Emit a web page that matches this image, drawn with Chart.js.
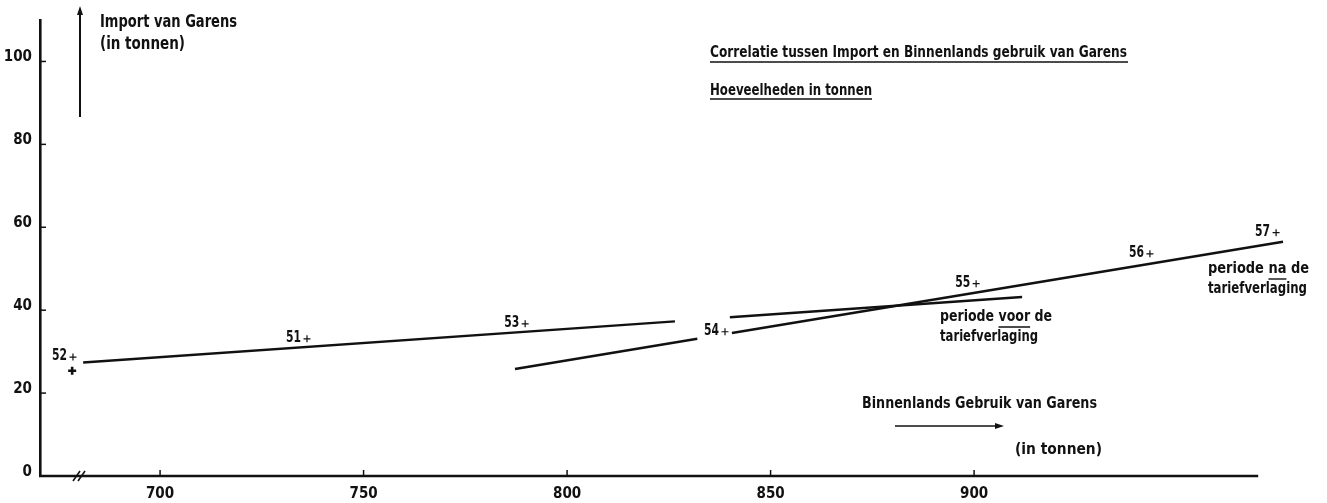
<!DOCTYPE html>
<html>
<head>
<meta charset="utf-8">
<script src="https://cdn.jsdelivr.net/npm/chart.js@4.4.1/dist/chart.umd.min.js"></script>
<style>
  html, body { margin: 0; padding: 0; background: #fff; }
  #wrap { width: 1327px; height: 503px; }
</style>
</head>
<body>
<div id="wrap"><canvas id="chart"></canvas></div>
<script>
/* ── Data ── */
const yearLabels = ['52', '51', '53', '54', '55', '56', '57'];
const gebruik    = [678.6, 736.1, 789.7, 838.8, 900.5, 943.2, 974.2];   // binnenlands gebruik
const importen   = [28.7, 33.1, 36.7, 34.8, 46.4, 53.6, 58.7];          // import

// extra bold cross under "52"
const markX = [678.4];
const markY = [25.4];

// trend lines (null = gap around the "54" label)
const voorX = [681.1, 826.5, 833, 840, 911.8];
const voorY = [27.4, 37.3, null, 38.3, 43.2];
const naX   = [787.2, 832, 836, 840.5, 975.9];
const naY   = [25.8, 33.1, null, 34.5, 56.5];

const xTicks = [700, 750, 800, 850, 900];
const yTicks = [0, 20, 40, 60, 80, 100];
const xAxisEnd = 969.8;   // the drawn x axis stops here, the 57 point sits past it

const INK  = '#111';
const FONT = '"Liberation Sans Narrow", "DejaVu Sans Condensed", "Arial Narrow", "Liberation Sans", sans-serif';

const toXY = (xs, ys) => xs.map((x, i) => ({ x: x, y: ys[i] }));

/* ── Annotation plugin: x axis line, inward ticks, axis break, texts, arrows ── */
const scanDecor = {
  id: 'scanDecor',
  afterDraw(chart) {
    const ctx = chart.ctx;
    const xs = chart.scales.x, ys = chart.scales.y;
    const area = chart.chartArea;

    ctx.save();
    ctx.strokeStyle = INK;
    ctx.fillStyle = INK;

    const line = (x1, y1, x2, y2, w) => {
      ctx.lineWidth = w;
      ctx.beginPath(); ctx.moveTo(x1, y1); ctx.lineTo(x2, y2); ctx.stroke();
    };
    // bold condensed text squeezed to the width it has in the scan
    const txt = (s, x, y, w, size) => {
      ctx.font = 'bold ' + (size || 16) + 'px ' + FONT;
      const k = w / ctx.measureText(s).width;
      ctx.save();
      ctx.translate(x, y);
      ctx.scale(k, 1);
      ctx.fillText(s, 0, 0);
      ctx.restore();
      return k;
    };
    // underline one word of a line drawn with txt()
    const underlineWord = (s, word, x, y, w, uy, size) => {
      const k = txt(s, x, y, w, size);
      const i = s.indexOf(word);
      const x0 = x + ctx.measureText(s.slice(0, i)).width * k;
      const x1 = x0 + ctx.measureText(word).width * k;
      line(x0, uy, x1, uy, 1.4);
    };

    // x axis line (shorter than the scale)
    line(area.left - 1, area.bottom, xs.getPixelForValue(xAxisEnd), area.bottom, 2.6);

    // inward tick marks
    yTicks.forEach(v => {
      const py = ys.getPixelForValue(v);
      line(area.left, py, area.left + 6, py, 1.5);
    });
    xTicks.forEach(v => {
      const px = xs.getPixelForValue(v);
      line(px, area.bottom, px, area.bottom - 6, 1.5);
    });

    // axis break "//"
    [0, 5].forEach(d => {
      line(area.left + 33 + d, area.bottom + 5, area.left + 40 + d, area.bottom - 5, 1.6);
    });

    // year labels next to the crosses
    ctx.textAlign = 'left';
    ctx.textBaseline = 'middle';
    chart.getDatasetMeta(2).data.forEach((pt, i) => {
      txt(yearLabels[i], pt.x - 21, pt.y - 1, 15, 15);
    });

    txt('Import van Garens', 100, 23, 137, 17);
    txt('(in tonnen)', 100, 45, 85, 17);

    // vertical arrow
    line(80, 117, 80, 12, 2);
    ctx.beginPath(); ctx.moveTo(80, 6); ctx.lineTo(77, 15); ctx.lineTo(83, 15); ctx.closePath(); ctx.fill();

    txt('Correlatie tussen Import en Binnenlands gebruik van Garens', 710, 53, 417);
    line(710, 62, 1128, 62, 1.6);
    txt('Hoeveelheden in tonnen', 710, 91, 162);
    line(710, 99, 872, 99, 1.6);

    underlineWord('periode voor de', 'voor', 940, 317, 112, 327);
    txt('tariefverlaging', 940, 337, 98);

    underlineWord('periode na de', 'na', 1208, 269, 101, 279);
    txt('tariefverlaging', 1208, 289, 99);

    txt('Binnenlands Gebruik van Garens', 862, 404, 235);
    line(895, 426, 996, 426, 1.6);
    ctx.beginPath(); ctx.moveTo(1004, 426); ctx.lineTo(995, 423); ctx.lineTo(995, 429); ctx.closePath(); ctx.fill();
    txt('(in tonnen)', 1015, 450, 87);

    ctx.restore();
  }
};

const lineStyle = {
  type: 'line',
  borderColor: INK,
  borderWidth: 2.5,
  pointRadius: 0,
  spanGaps: false,
  tension: 0,
  clip: false
};

new Chart(document.getElementById('chart'), {
  type: 'scatter',
  data: {
    datasets: [
      Object.assign({ label: 'voor', data: toXY(voorX, voorY) }, lineStyle),
      Object.assign({ label: 'na', data: toXY(naX, naY) }, lineStyle),
      {
        label: 'jaren',
        data: toXY(gebruik, importen),
        pointStyle: 'cross',
        pointRadius: 3.5,
        borderWidth: 1.2,
        borderColor: INK,
        backgroundColor: INK,
        clip: false
      },
      {
        label: 'mark',
        data: toXY(markX, markY),
        pointStyle: 'cross',
        pointRadius: 4,
        borderWidth: 2.6,
        borderColor: INK,
        clip: false
      }
    ]
  },
  options: {
    responsive: true,
    maintainAspectRatio: false,
    animation: false,
    layout: { padding: { top: 20, right: 27.3, bottom: 0, left: 0 } },
    plugins: {
      legend: { display: false },
      tooltip: { enabled: false }
    },
    scales: {
      x: {
        type: 'linear',
        min: 670.5,
        max: 980,
        afterBuildTicks: s => { s.ticks = xTicks.map(v => ({ value: v })); },
        afterFit: s => { s.height = 27; },
        grid: { display: false, drawTicks: false },
        border: { display: false },
        ticks: {
          color: INK,
          padding: 9,
          maxRotation: 0,
          autoSkip: false,
          font: { family: FONT, size: 15, weight: 'bold' }
        }
      },
      y: {
        min: 0,
        max: 110,
        afterBuildTicks: s => { s.ticks = yTicks.map(v => ({ value: v })); },
        afterFit: s => { s.width = 40; },
        grid: { display: false, drawTicks: false },
        border: { display: true, color: INK, width: 2.6 },
        ticks: {
          color: INK,
          padding: 8,
          labelOffset: -4,
          font: { family: FONT, size: 15, weight: 'bold' }
        }
      }
    }
  },
  plugins: [scanDecor]
});
</script>
</body>
</html>
